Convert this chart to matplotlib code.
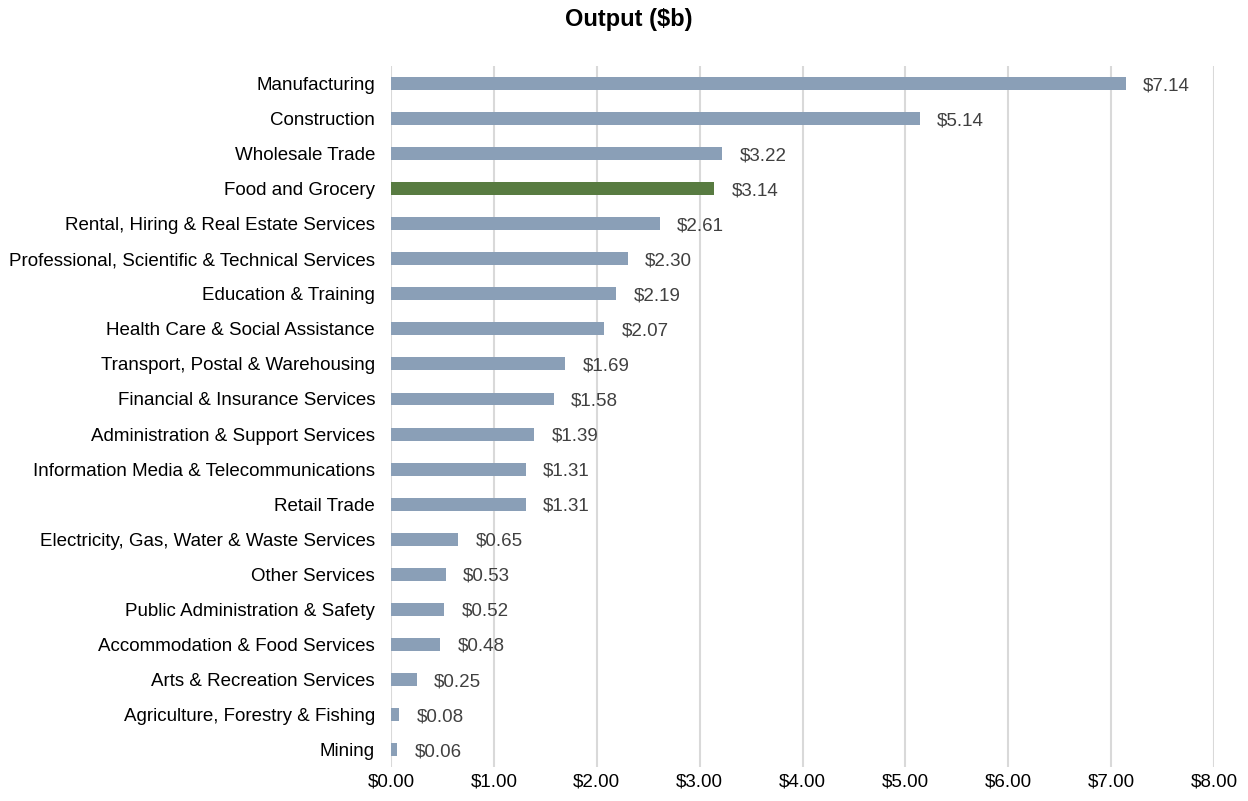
import matplotlib
matplotlib.use("Agg")
import matplotlib.pyplot as plt
from matplotlib.ticker import FuncFormatter

plt.rcParams['font.family'] = ['Liberation Sans', 'DejaVu Sans']

# Data (top to bottom)
industries = [
    "Manufacturing", "Construction", "Wholesale Trade", "Food and Grocery",
    "Rental, Hiring & Real Estate Services",
    "Professional, Scientific & Technical Services",
    "Education & Training", "Health Care & Social Assistance",
    "Transport, Postal & Warehousing", "Financial & Insurance Services",
    "Administration & Support Services",
    "Information Media & Telecommunications", "Retail Trade",
    "Electricity, Gas, Water & Waste Services", "Other Services",
    "Public Administration & Safety", "Accommodation & Food Services",
    "Arts & Recreation Services", "Agriculture, Forestry & Fishing", "Mining",
]
output_b = [7.14, 5.14, 3.22, 3.14, 2.61, 2.30, 2.19, 2.07, 1.69, 1.58,
            1.39, 1.31, 1.31, 0.65, 0.53, 0.52, 0.48, 0.25, 0.08, 0.06]
highlight = "Food and Grocery"

base_color = '#8A9FB7'
hi_color = '#587B41'
colors = [hi_color if name == highlight else base_color for name in industries]

fig = plt.figure(figsize=(12.48, 8.01), dpi=100)
ax = fig.add_axes([0.3133, 0.0424, 0.6595, 0.8752])

ypos = list(range(len(industries)))
ax.barh(ypos, output_b, height=0.37, color=colors, zorder=3)
ax.set_ylim(len(industries) - 0.5, -0.5)
ax.set_yticks(ypos)
ax.set_yticklabels(industries, fontsize=13.5, color='black')

ax.set_xlim(0, 8)
ax.set_xticks(range(0, 9))
ax.xaxis.set_major_formatter(FuncFormatter(lambda v, p: f"${v:.2f}"))
ax.tick_params(axis='x', labelsize=13.5, length=0, pad=5)
ax.tick_params(axis='y', length=0, pad=11.5)
ax.grid(axis='x', color='#D9D9D9', linewidth=1.5, zorder=0)

for s in ax.spines.values():
    s.set_visible(False)

# value labels, sitting a touch below the bar centre like the original
for y, v in zip(ypos, output_b):
    ax.text(v + 0.17, y + 0.06, f"${v:.2f}", va='center', ha='left',
            fontsize=13.5, color='#404040')

fig.suptitle("Output ($b)", x=0.504, y=0.99, fontsize=17, fontweight='bold')

fig.savefig("out.png", dpi=100)
